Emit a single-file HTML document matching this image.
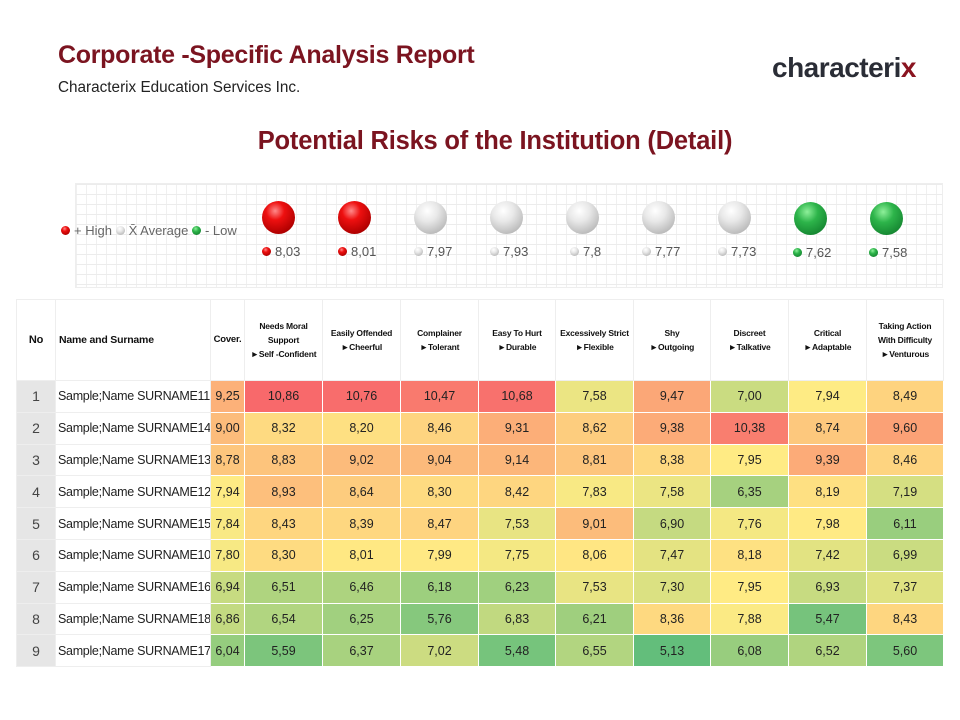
<!DOCTYPE html>
<html><head><meta charset="utf-8"><style>
body{margin:0;width:960px;height:720px;background:#fff;font-family:"Liberation Sans",sans-serif;position:relative;overflow:hidden}
.abs{position:absolute}
h1{position:absolute;left:58px;top:41px;margin:0;font-size:25px;color:#7b1420;font-weight:bold;letter-spacing:-0.3px}
.sub{left:58px;top:79px;font-size:15.3px;color:#222}
h2{position:absolute;left:0;width:990px;text-align:center;top:127px;margin:0;font-size:25.5px;color:#7b1420;font-weight:bold;letter-spacing:-0.2px}
.grid{left:75px;top:183px;width:866px;height:103px;background-color:#fff;background-image:linear-gradient(#ececec 1px,transparent 1px),linear-gradient(90deg,#f0f0f0 1px,transparent 1px);background-size:10px 10px;border:1px solid #eee}
.sph{position:absolute;width:33px;height:33px;border-radius:50%}
.red{background:radial-gradient(circle at 40% 30%,#ff8a8a 0,#ee1010 30%,#b00000 75%,#700 100%)}
.wht{background:radial-gradient(circle at 40% 30%,#fff 0,#e8e8e8 35%,#bdbdbd 75%,#888 100%)}
.grn{background:radial-gradient(circle at 40% 30%,#8ef09a 0,#2db44a 35%,#178a33 75%,#0c5a20 100%)}
.dot{display:inline-block;width:9px;height:9px;border-radius:50%;margin-right:4px;vertical-align:0}
.lbl{position:absolute;font-size:13px;color:#555;white-space:nowrap}
table{position:absolute;left:16px;top:299px;border-collapse:collapse;font-size:12.5px;table-layout:fixed;width:927px}
td,th{border:1px solid #eee;padding:0;text-align:center;height:30.8px;white-space:nowrap;overflow:hidden}
th{height:80px;font-size:8.5px;font-weight:bold;color:#111;line-height:14px;letter-spacing:-0.2px}
td.v{border:1px solid #fff;color:#222}
td.no{background:#e6e6e6;color:#444;font-size:14px}
td.nm{text-align:left;padding-left:2px;color:#222;letter-spacing:-0.3px}
</style></head><body>
<h1>Corporate -Specific Analysis Report</h1>
<div class="abs sub">Characterix Education Services Inc.</div>
<div class="abs" style="left:772px;top:52px;font-size:28px;font-weight:bold;color:#2a2d36;letter-spacing:-0.5px">characteri<span style="color:#8a1420">x</span></div>
<h2>Potential Risks of the Institution (Detail)</h2>
<div class="abs grid"></div>
<div class="lbl" style="left:61px;top:223px;color:#666"><span class="dot red"></span>+ High <span class="dot wht"></span>X̄ Average <span class="dot grn"></span>- Low</div>
<div class="sph red" style="left:262px;top:201px"></div>
<div class="sph red" style="left:338px;top:201px"></div>
<div class="sph wht" style="left:414px;top:201px"></div>
<div class="sph wht" style="left:490px;top:201px"></div>
<div class="sph wht" style="left:566px;top:201px"></div>
<div class="sph wht" style="left:642px;top:201px"></div>
<div class="sph wht" style="left:718px;top:201px"></div>
<div class="sph grn" style="left:794px;top:202px"></div>
<div class="sph grn" style="left:870px;top:202px"></div>
<div class="lbl" style="left:262px;top:244px"><span class="dot red"></span>8,03</div>
<div class="lbl" style="left:338px;top:244px"><span class="dot red"></span>8,01</div>
<div class="lbl" style="left:414px;top:244px"><span class="dot wht"></span>7,97</div>
<div class="lbl" style="left:490px;top:244px"><span class="dot wht"></span>7,93</div>
<div class="lbl" style="left:570px;top:244px"><span class="dot wht"></span>7,8</div>
<div class="lbl" style="left:642px;top:244px"><span class="dot wht"></span>7,77</div>
<div class="lbl" style="left:718px;top:244px"><span class="dot wht"></span>7,73</div>
<div class="lbl" style="left:793px;top:245px"><span class="dot grn"></span>7,62</div>
<div class="lbl" style="left:869px;top:245px"><span class="dot grn"></span>7,58</div>
<table>
<colgroup><col style="width:39px"><col style="width:155px"><col style="width:34px"><col style="width:78px"><col style="width:78px"><col style="width:78px"><col style="width:77px"><col style="width:78px"><col style="width:77px"><col style="width:78px"><col style="width:78px"><col style="width:77px"></colgroup>
<tr><th style="font-size:11px">No</th><th style="text-align:left;padding-left:3px;font-size:10.5px">Name and Surname</th><th style="font-size:9.5px">Cover.</th>
<th>Needs Moral<br>Support<br>►Self -Confident</th><th>Easily Offended<br>►Cheerful</th><th>Complainer<br>►Tolerant</th><th>Easy To Hurt<br>►Durable</th><th>Excessively Strict<br>►Flexible</th><th>Shy<br>►Outgoing</th><th>Discreet<br>►Talkative</th><th>Critical<br>►Adaptable</th><th>Taking Action<br>With Difficulty<br>►Venturous</th></tr>
<tr><td class="no">1</td><td class="nm">Sample;Name SURNAME11</td><td class="v">9,25</td><td class="v">10,86</td><td class="v">10,76</td><td class="v">10,47</td><td class="v">10,68</td><td class="v">7,58</td><td class="v">9,47</td><td class="v">7,00</td><td class="v">7,94</td><td class="v">8,49</td></tr>
<tr><td class="no">2</td><td class="nm">Sample;Name SURNAME14</td><td class="v">9,00</td><td class="v">8,32</td><td class="v">8,20</td><td class="v">8,46</td><td class="v">9,31</td><td class="v">8,62</td><td class="v">9,38</td><td class="v">10,38</td><td class="v">8,74</td><td class="v">9,60</td></tr>
<tr><td class="no">3</td><td class="nm">Sample;Name SURNAME13</td><td class="v">8,78</td><td class="v">8,83</td><td class="v">9,02</td><td class="v">9,04</td><td class="v">9,14</td><td class="v">8,81</td><td class="v">8,38</td><td class="v">7,95</td><td class="v">9,39</td><td class="v">8,46</td></tr>
<tr><td class="no">4</td><td class="nm">Sample;Name SURNAME12</td><td class="v">7,94</td><td class="v">8,93</td><td class="v">8,64</td><td class="v">8,30</td><td class="v">8,42</td><td class="v">7,83</td><td class="v">7,58</td><td class="v">6,35</td><td class="v">8,19</td><td class="v">7,19</td></tr>
<tr><td class="no">5</td><td class="nm">Sample;Name SURNAME15</td><td class="v">7,84</td><td class="v">8,43</td><td class="v">8,39</td><td class="v">8,47</td><td class="v">7,53</td><td class="v">9,01</td><td class="v">6,90</td><td class="v">7,76</td><td class="v">7,98</td><td class="v">6,11</td></tr>
<tr><td class="no">6</td><td class="nm">Sample;Name SURNAME10</td><td class="v">7,80</td><td class="v">8,30</td><td class="v">8,01</td><td class="v">7,99</td><td class="v">7,75</td><td class="v">8,06</td><td class="v">7,47</td><td class="v">8,18</td><td class="v">7,42</td><td class="v">6,99</td></tr>
<tr><td class="no">7</td><td class="nm">Sample;Name SURNAME16</td><td class="v">6,94</td><td class="v">6,51</td><td class="v">6,46</td><td class="v">6,18</td><td class="v">6,23</td><td class="v">7,53</td><td class="v">7,30</td><td class="v">7,95</td><td class="v">6,93</td><td class="v">7,37</td></tr>
<tr><td class="no">8</td><td class="nm">Sample;Name SURNAME18</td><td class="v">6,86</td><td class="v">6,54</td><td class="v">6,25</td><td class="v">5,76</td><td class="v">6,83</td><td class="v">6,21</td><td class="v">8,36</td><td class="v">7,88</td><td class="v">5,47</td><td class="v">8,43</td></tr>
<tr><td class="no">9</td><td class="nm">Sample;Name SURNAME17</td><td class="v">6,04</td><td class="v">5,59</td><td class="v">6,37</td><td class="v">7,02</td><td class="v">5,48</td><td class="v">6,55</td><td class="v">5,13</td><td class="v">6,08</td><td class="v">6,52</td><td class="v">5,60</td></tr>
</table>
<script>
function mix(a,b,t){return a.map((x,i)=>Math.round(x+(b[i]-x)*t));}
var G=[99,190,123],Y=[255,235,132],R=[248,105,107];
document.querySelectorAll('td.v').forEach(function(td){
 var v=parseFloat(td.textContent.replace(',','.')),c;
 if(v<=7.95)c=mix(G,Y,Math.max(0,(v-5.13)/(7.95-5.13)));else c=mix(Y,R,Math.min(1,(v-7.95)/(10.86-7.95)));
 td.style.background='rgb('+c.join(',')+')';
});
</script>
</body></html>
